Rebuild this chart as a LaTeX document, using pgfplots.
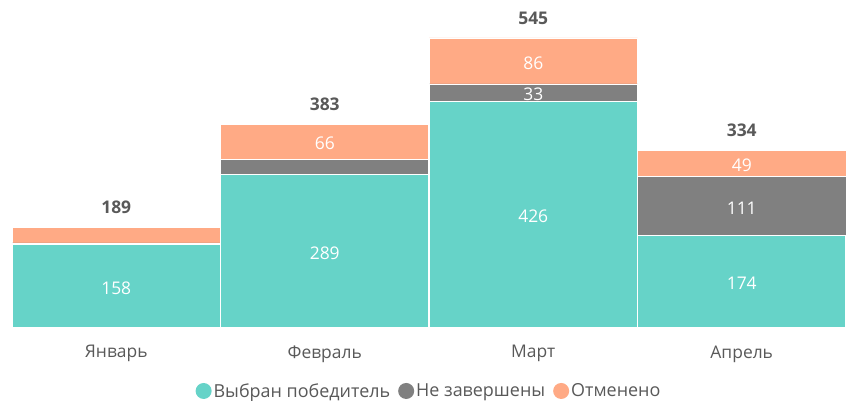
\documentclass[border=0pt]{standalone}
\usepackage{pgfplots}
\pgfplotsset{compat=1.18}
\usepackage{fontspec}
\setmainfont{Open Sans}
\definecolor{cteal}{HTML}{66D3C8}
\definecolor{cgrey}{HTML}{808080}
\definecolor{corange}{HTML}{FFAA85}
\definecolor{ctext}{HTML}{595959}
\begin{document}
\begin{tikzpicture}
\path[use as bounding box] (0,0) rectangle (846bp,401bp);
\begin{axis}[
  at={(12bp,73bp)}, anchor=south west,
  scale only axis, width=834bp, height=328bp,
  ybar stacked, bar width=1,
  xmin=-0.5, xmax=3.5, ymin=0, ymax=616.4,
  axis line style={draw=none}, major tick length=0,
  ytick=\empty,
  xtick=data, xticklabels={Январь,Февраль,Март,Апрель},
  xticklabel style={font=\fontsize{17.5}{20}\selectfont, text=ctext, yshift=-14bp},
  /pgf/number format/assume math mode=true,
  clip=false,
  point meta=explicit symbolic,
  nodes near coords={\pgfplotspointmeta},
  every node near coord/.append style={font=\fontsize{17.5}{20}\selectfont, text=white, anchor=center, yshift=-2bp},
  legend style={at={(0.5,-0.192)}, anchor=center, draw=none, legend columns=3,
    font=\fontsize{18}{20}\selectfont, text=ctext,
    /tikz/every even column/.append style={column sep=6bp}},
  legend image code/.code={\fill[#1,draw=none] (4bp,0bp) circle (8bp);},
]
\addplot[fill=cteal, draw=white, line width=1.2pt] coordinates {(0,158) [158] (1,289) [289] (2,426) [426] (3,174) [174]};
\addlegendentry{Выбран победитель}
\addplot[fill=cgrey, draw=white, line width=0.4pt] coordinates {(0,2) [] (1,28) [] (2,33) [33] (3,111) [111]};
\addlegendentry{Не завершены}
\addplot[fill=corange, draw=white, line width=0.4pt] coordinates {(0,29) [] (1,66) [66] (2,86) [86] (3,49) [49]};
\addlegendentry{Отменено}
\addplot[draw=none, fill=none, forget plot, stack plots=false,
  visualization depends on=rawy\as\rawy,
  every node near coord/.append style={text=ctext, font=\fontsize{17.5}{20}\selectfont\bfseries, anchor=south, shift={(axis direction cs:0,\rawy/2)}, yshift=12bp}]
  coordinates {(0,189) [189] (1,383) [383] (2,545) [545] (3,334) [334]};
\end{axis}
\end{tikzpicture}
\end{document}
